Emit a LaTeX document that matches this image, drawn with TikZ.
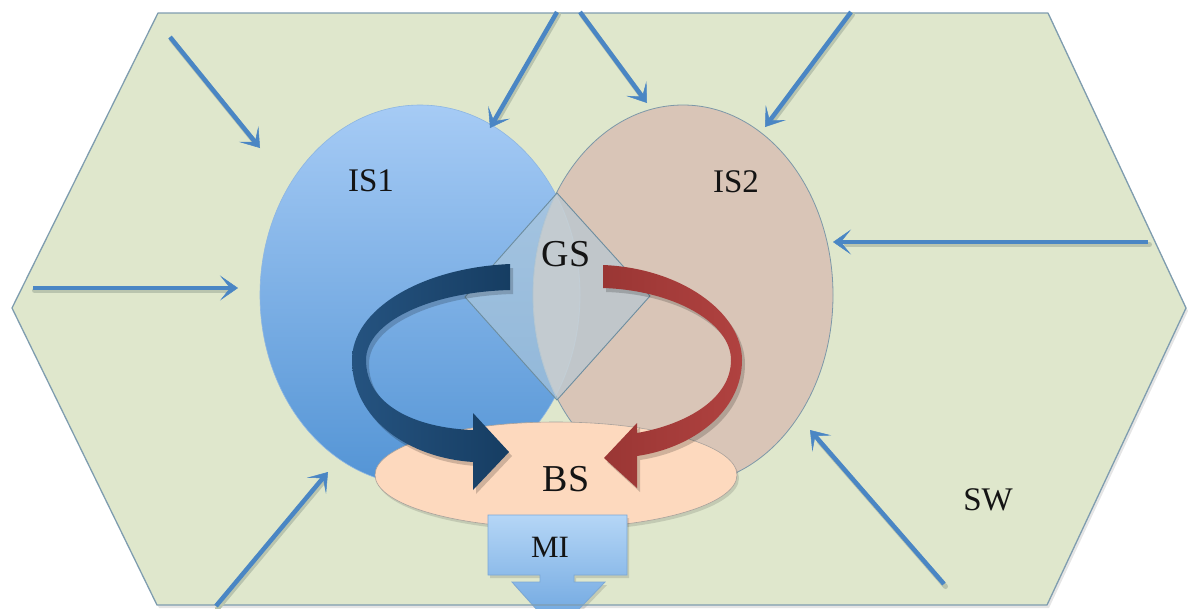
\documentclass[tikz,border=0pt]{standalone}
\usepackage{fontspec}
\setmainfont{Liberation Serif}
\usetikzlibrary{arrows.meta}

\definecolor{hexfill}{HTML}{DFE7CC}
\definecolor{hexline}{HTML}{7F9DAF}
\definecolor{inflow}{HTML}{4A86C4}
\definecolor{inshade}{HTML}{B9C4AE}
\definecolor{istop}{HTML}{A6CBF5}
\definecolor{isbot}{HTML}{5394D5}
\definecolor{isline}{HTML}{8DB6E2}
\definecolor{istwo}{HTML}{D9C5B7}
\definecolor{istwoline}{HTML}{7D98A8}
\definecolor{bsfill}{HTML}{FDD9BE}
\definecolor{bsline}{HTML}{A9A29C}
\definecolor{gsfill}{HTML}{B0C8D8}
\definecolor{gsline}{HTML}{6D8D9F}
\definecolor{navyA}{HTML}{255380}
\definecolor{navyB}{HTML}{163D62}
\definecolor{redA}{HTML}{B04240}
\definecolor{redB}{HTML}{9A3634}
\definecolor{mitop}{HTML}{B5D6F6}
\definecolor{mibot}{HTML}{68A2DE}
\definecolor{miline}{HTML}{7BA8D6}

\tikzset{
  inarrow/.style={draw=inflow, line width=4.5pt,
    -{Stealth[length=18pt,width=25pt,inset=10pt,line width=0.5pt]}},
  inshadow/.style={draw=inshade, line width=5pt, line cap=round},
  lab/.style={inner sep=0pt, text=black!92, font=\fontsize{33}{36}\selectfont},
  biglab/.style={lab, font=\fontsize{38}{42}\selectfont},
  softshadow/.style={fill=black, fill opacity=0.18},
}

% an incoming arrow with a soft line shadow under its shaft
\newcommand\inflowarrow[2]{%
  \draw[inshadow, shorten >=12pt] ([shift={(1.5,2.5)}]#1) -- ([shift={(1.5,2.5)}]#2);
  \draw[inarrow] (#1) -- (#2);}

% outline of the two curved flow arrows
\newcommand\navyloop{(510,264) .. controls (420,268) and (352,310) .. (352,360)
  .. controls (352,420) and (410,458) .. (473,462)
  -- (473,490) -- (509,452) -- (473,413) -- (473,430)
  .. controls (415,428) and (366,405) .. (366,360)
  .. controls (366,322) and (430,292) .. (510,290) -- cycle}
\newcommand\redloop{(603,265) .. controls (680,268) and (742,312) .. (742,360)
  .. controls (742,412) and (692,448) .. (637,456)
  -- (637,488) -- (604,458) -- (637,423) -- (637,433)
  .. controls (688,424) and (731,398) .. (731,360)
  .. controls (731,322) and (672,290) .. (603,288) -- cycle}
\newcommand\miarrow{(488,515) -- (627,515) -- (627,575) -- (574,575) -- (574,582)
  -- (605,582) -- (557,632) -- (512,582) -- (540,582) -- (540,575) -- (488,575) -- cycle}

\begin{document}
\begin{tikzpicture}[x=1pt, y=-1pt]
\useasboundingbox (0,0) rectangle (1188,608);
\clip (0,0) rectangle (1188,608);

% hexagonal surroundings
\coordinate (h1) at (158,13);
\coordinate (h2) at (1048,13);
\coordinate (h3) at (1186,308);
\coordinate (h4) at (1047,605);
\coordinate (h5) at (157,605);
\coordinate (h6) at (12,308);
\fill[black, fill opacity=0.10] ([shift={(2,3)}]h1) -- ([shift={(2,3)}]h2) -- ([shift={(2,3)}]h3)
  -- ([shift={(2,3)}]h4) -- ([shift={(2,3)}]h5) -- ([shift={(2,3)}]h6) -- cycle;
\fill[hexfill] (h1) -- (h2) -- (h3) -- (h4) -- (h5) -- (h6) -- cycle;

% IS1 and IS2
\coordinate (c1) at (420,295);
\coordinate (c2) at (683,295);
\path[top color=istop, bottom color=isbot, draw=isline, line width=0.6pt]
  (c1) ellipse [x radius=160pt, y radius=190pt];
\path[fill=istwo, draw=istwoline, line width=0.8pt]
  (c2) ellipse [x radius=150pt, y radius=190pt];
\begin{scope}
  \clip (c1) ellipse [x radius=160pt, y radius=190pt];
  \fill[white, fill opacity=0.22] (c2) ellipse [x radius=150pt, y radius=190pt];
  \draw[white!75!gray, draw opacity=0.6, line width=0.8pt] (c2) ellipse [x radius=150pt, y radius=190pt];
\end{scope}
\begin{scope}
  \clip (c2) ellipse [x radius=150pt, y radius=190pt];
  \draw[white!75!gray, draw opacity=0.6, line width=0.8pt] (c1) ellipse [x radius=160pt, y radius=190pt];
\end{scope}

% GS diamond
\coordinate (dt) at (557,193);
\coordinate (dr) at (650,296);
\coordinate (db) at (557,400);
\coordinate (dl) at (465,297);
\filldraw[fill=gsfill, fill opacity=0.6, draw=gsline, line width=0.9pt]
  (dt) -- (dr) -- (db) -- (dl) -- cycle;

% BS ellipse
\coordinate (c3) at (556,475);
\fill[black, fill opacity=0.12] ([shift={(2,3)}]c3) ellipse [x radius=181pt, y radius=53pt];
\path[fill=bsfill, draw=bsline, line width=0.6pt] (c3) ellipse [x radius=181pt, y radius=53pt];

% curved flow arrows
\begin{scope}[shift={(3,4)}]
  \fill[softshadow] \navyloop;
  \fill[softshadow] \redloop;
\end{scope}
\path[left color=navyA, right color=navyB] \navyloop;
\path[left color=redB, right color=redA] \redloop;

% MI outflow
\fill[black, fill opacity=0.12] [shift={(2,3)}] \miarrow;
\path[top color=mitop, bottom color=mibot, draw=miline, line width=0.8pt] \miarrow;

% outline of the surroundings
\draw[hexline, line width=1.3pt, line join=round]
  (h1) -- (h2) -- (h3) -- (h4) -- (h5) -- (h6) -- cycle;

% incoming arrows
\coordinate (a1s) at (170,37);   \coordinate (a1e) at (260,148);
\coordinate (a2s) at (33,288);   \coordinate (a2e) at (238,288);
\coordinate (a3s) at (557,12);   \coordinate (a3e) at (490,128);
\coordinate (a4s) at (580,12);   \coordinate (a4e) at (647,103);
\coordinate (a5s) at (851,12);   \coordinate (a5e) at (765,127);
\coordinate (a6s) at (1148,242); \coordinate (a6e) at (833,242);
\coordinate (a7s) at (944,584);  \coordinate (a7e) at (810,430);
\coordinate (a8s) at (216,606);  \coordinate (a8e) at (328,472);
\inflowarrow{a1s}{a1e}
\inflowarrow{a2s}{a2e}
\inflowarrow{a3s}{a3e}
\inflowarrow{a4s}{a4e}
\inflowarrow{a5s}{a5e}
\inflowarrow{a6s}{a6e}
\inflowarrow{a7s}{a7e}
\inflowarrow{a8s}{a8e}

% labels
\node[lab] (is1) at (371,181) {IS1};
\node[lab] (is2) at (736,182) {IS2};
\node[biglab] (gs) at (566,254) {GS};
\node[biglab] (bs) at (566,479) {BS};
\node[lab, font=\fontsize{31}{34}\selectfont] (mi) at (550,547) {MI};
\node[lab] (sw) at (988,500) {SW};
\end{tikzpicture}
\end{document}
